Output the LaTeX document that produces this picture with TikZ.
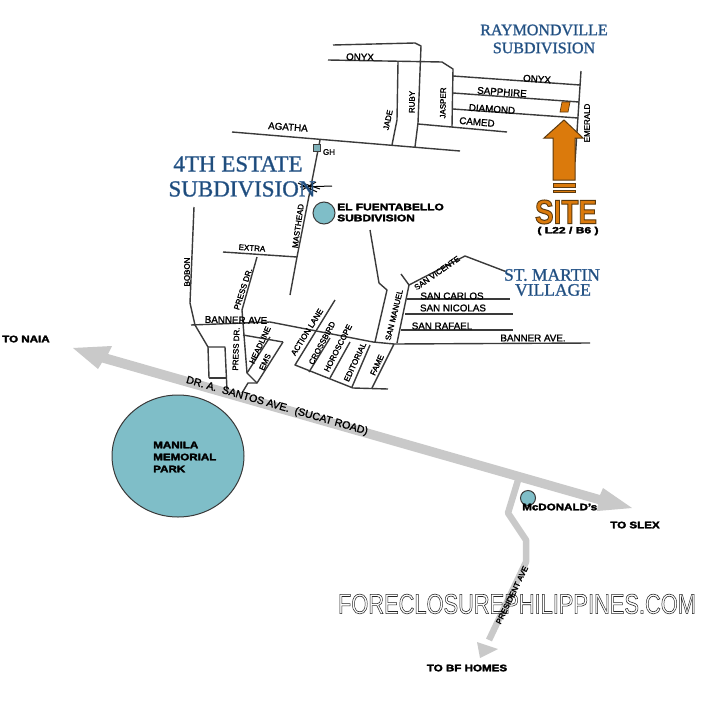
\documentclass[tikz,border=0pt]{standalone}
\usepackage{fontspec}
\setmainfont{Liberation Sans}
\newfontfamily\blueserif{Liberation Serif}
\definecolor{roadc}{HTML}{3A3A3A}
\definecolor{graya}{HTML}{C9C9C9}
\definecolor{teal1}{HTML}{7FBEC8}
\definecolor{org}{HTML}{DB7A0C}
\definecolor{orgd}{HTML}{5C3A10}
\definecolor{blu}{HTML}{1D4A78}
\newcommand\rendermode[1]{\special{pdf:code #1}}
\tikzset{
 road/.style={draw=roadc,line width=1.4pt,line join=round},
 heavy/.style={execute at begin node={\rendermode{2 Tr #1 w 0.1 0.1 0.1 RG}}},
 st/.style={inner sep=0pt,text=black,heavy=0.15,font=\fontsize{8}{9}\selectfont},
 wd/.style={inner sep=0pt,text=black,heavy=0.15,font=\fontsize{9.8}{10}\selectfont},
 bd/.style={inner sep=0pt,text=black,xscale=1.22,heavy=0.25,font=\fontsize{9.5}{10}\bfseries\selectfont},
 ttl/.style={inner sep=0pt,text=blu,font=\blueserif\fontsize{#1}{#1}\selectfont},
 spot/.style={draw=roadc,line width=1pt,fill=teal1},
 grayroad/.style={fill=graya,draw=none}
}
\begin{document}
\begin{tikzpicture}[x=1pt,y=-1pt]
\useasboundingbox (0,0) rectangle (720,720);
\fill[white] (0,0) rectangle (720,720);
% main gray road
\path[grayroad] (73,348) -- (112,346) -- (108,354) -- (600,495) -- (603,488) -- (632,508) -- (597,511) -- (598,504) -- (102,362.5) -- (98,369) -- cycle;
% president ave
\draw[graya,line width=6.5pt,line join=round] (519,477) -- (508,513) -- (526,540) -- (526,562) -- (489,640);
\path[grayroad] (480,658) -- (477,642) -- (498,649) -- cycle;
% northern roads
\draw[road] (333,45) -- (415,43) -- (421,46) -- (418,123) -- (415,147);
\draw[road] (328,60) -- (442,62) -- (453,69) -- (452,127);
\draw[road] (398,62) -- (397,120) -- (392,145);
\draw[road] (232,132) -- (460,151);
\draw[road] (320,140) -- (297,257) -- (290,295);
\draw[road] (418,124) -- (507,132);
\draw[road] (453,76) -- (580,85);
\draw[road] (453,93) -- (579,102);
\draw[road] (453,109) -- (578,118);
\draw[road] (581,71) -- (575,162);
% west block
\draw[road] (194,207) -- (190,303) -- (195,325) -- (208,347) -- (209,378);
\draw[road] (208,347) -- (225,347) -- (227,390);
\draw[road] (209,378) -- (227,378);
\draw[road] (191,325) -- (270,322) -- (373,342) -- (394,344) -- (590,343);
\draw[road] (223,252) -- (297,257);
\draw[road] (257,257) -- (242,310) -- (247,373) -- (257,383) -- (283,342);
\draw[road] (243,335) -- (283,342);
\draw[road] (247,373) -- (270,337);
\draw[road] (257,383) -- (248,383) -- (242,393);
\draw[road] (335,300) -- (295,365) -- (353,388) -- (388,389);
\draw[road] (330,338) -- (309,372);
\draw[road] (350,342) -- (330,378);
\draw[road] (370,345) -- (352,387);
\draw[road] (394,344) -- (372,388);
\draw[road] (370,230) -- (379,283) -- (387,290) -- (375,342);
\draw[road] (401,274) -- (409,285) -- (397,343);
\draw[road] (409,285) -- (465,256) -- (507,272);
\draw[road] (407,299) -- (510,299);
\draw[road] (405,314) -- (513,314);
\draw[road] (401,330) -- (513,330);
% scribble
\draw[black,line width=1pt] (298,183) -- (317,192) (300,187) -- (332,186) (302,190) -- (316,182) (305,184) -- (320,189);
% spots
\draw[spot] (178,456) ellipse [x radius=66pt,y radius=61pt];
\draw[spot] (528,498) circle [radius=7.5pt];
\draw[spot] (324,213) circle [radius=11pt];
\draw[draw=roadc,fill=teal1!80!gray,line width=.8pt] (313.5,144) rectangle (320.5,151);
% site marker
\draw[draw=orgd,fill=org,line width=.7pt] (562,102) -- (570,102) -- (568,112) -- (560,112) -- cycle;
\draw[draw=orgd,fill=org,line width=1pt] (564,120) -- (583,138) -- (575,138) -- (575,180) -- (553,180) -- (553,138) -- (544,138) -- cycle;
\draw[draw=orgd,fill=org,line width=.8pt] (553,183) rectangle (575,187.5);
\draw[draw=orgd,fill=org,line width=.8pt] (553,190) rectangle (575,192.5);
% street labels
\node[wd,rotate=-1] (onyxa) at (360,57) {ONYX};
\node[st,rotate=78] (jade) at (388,120) {JADE};
\node[st,rotate=89] (ruby) at (412,102) {RUBY};
\node[st,rotate=89] (jasper) at (443,103) {JASPER};
\node[wd,rotate=-4] (agatha) at (288,127) {AGATHA};
\node[st] (gh) at (329,152) {GH};
\node[wd,rotate=-4] (onyxb) at (537,79) {ONYX};
\node[wd,rotate=-4] (sapphire) at (502,92) {SAPPHIRE};
\node[wd,rotate=-4] (diamond) at (492,109) {DIAMOND};
\node[wd,rotate=-5] (camed) at (477,122) {CAMED};
\node[st,rotate=90] (emerald) at (587,123) {EMERALD};
\node[st,rotate=82] (masthead) at (298,226) {MASTHEAD};
\node[st,rotate=90] (bobon) at (187,272) {BOBON};
\node[st,rotate=-4] (extra) at (252,248) {EXTRA};
\node[st,rotate=72] (pressa) at (243,289) {PRESS DR.};
\node[wd,rotate=-1] (bannera) at (236,320) {BANNER AVE};
\node[st,rotate=88] (pressb) at (236,349) {PRESS DR.};
\node[st,rotate=65] (headline) at (260,345) {HEADLINE};
\node[st,rotate=65] (ems) at (265,362) {EMS};
\node[st,rotate=58] (action) at (307,332) {ACTION LANE};
\node[st,rotate=62] (crossbird) at (322,343) {CROSSBIRD};
\node[st,rotate=63] (horoscope) at (338,348) {HOROSCOPE};
\node[st,rotate=65] (editorial) at (355,362) {EDITORIAL};
\node[st,rotate=65] (fame) at (377,365) {FAME};
\node[st,rotate=76] (manuel) at (394,315) {SAN MANUEL};
\node[st,rotate=35] (vicente) at (437,273) {SAN VICENTE};
\node[wd] (carlos) at (452,296) {SAN CARLOS};
\node[wd] (nicolas) at (453,308) {SAN NICOLAS};
\node[wd] (rafael) at (442,326) {SAN RAFAEL};
\node[wd] (bannerb) at (533,338) {BANNER AVE.};
\node[wd,font=\fontsize{10.6}{11}\selectfont,rotate=-16] (santos) at (277,406) {DR. A.~ SANTOS AVE.~ (SUCAT ROAD)};
% watermark
\node[inner sep=0pt,text=white,xscale=.78,font=\fontsize{28}{28}\selectfont] (mark) at (517,604) {\rendermode{1 Tr 0.6 w 0.15 G}FORECLOSUREPHILIPPINES.COM\rendermode{0 Tr}};
\node[st,rotate=64] (president) at (512,595) {PRESIDENT AVE};
% bold labels
\node[bd,anchor=west] (naia) at (2,339) {TO NAIA};
\node[bd] (slex) at (635,525) {TO SLEX};
\node[bd] (bf) at (467,668) {TO BF HOMES};
\node[bd,align=left,anchor=west,font=\fontsize{9.5}{12}\bfseries\selectfont] (manila) at (153,457) {MANILA\\MEMORIAL\\PARK};
\node[bd,anchor=west] (mcd) at (522,507) {McDONALD's};
\node[bd,xscale=1.03,align=left,anchor=west,font=\fontsize{9.5}{11}\bfseries\selectfont] (fuent) at (337,212.5) {EL FUENTABELLO\\SUBDIVISION};
% titles
\node[ttl=23] (esta) at (238,164) {\rendermode{2 Tr 0.35 w 0.25 0.42 0.62 RG}4TH ESTATE\rendermode{0 Tr}};
\node[ttl=23] (estb) at (242,189) {\rendermode{2 Tr 0.35 w 0.25 0.42 0.62 RG}SUBDIVISION\rendermode{0 Tr}};
\node[ttl=16] (raya) at (544,30) {\rendermode{2 Tr 0.3 w 0.25 0.42 0.62 RG}RAYMONDVILLE\rendermode{0 Tr}};
\node[ttl=16] (rayb) at (544,48) {\rendermode{2 Tr 0.3 w 0.25 0.42 0.62 RG}SUBDIVISION\rendermode{0 Tr}};
\node[ttl=17.5] (mara) at (552,275) {\rendermode{2 Tr 0.3 w 0.25 0.42 0.62 RG}ST. MARTIN\rendermode{0 Tr}};
\node[ttl=17.5] (marb) at (553,290) {\rendermode{2 Tr 0.3 w 0.25 0.42 0.62 RG}VILLAGE\rendermode{0 Tr}};
% site label
\node[inner sep=0pt,text=org,xscale=.82,font=\fontsize{34}{34}\bfseries\selectfont] (site) at (566,212) {\rendermode{2 Tr 1 w 0.36 0.23 0.06 RG}SITE\rendermode{0 Tr}};
\node[bd,xscale=1.1,font=\fontsize{9}{10}\bfseries\selectfont] (lot) at (568,231) {( L22 / B6 )};
\end{tikzpicture}
\end{document}
